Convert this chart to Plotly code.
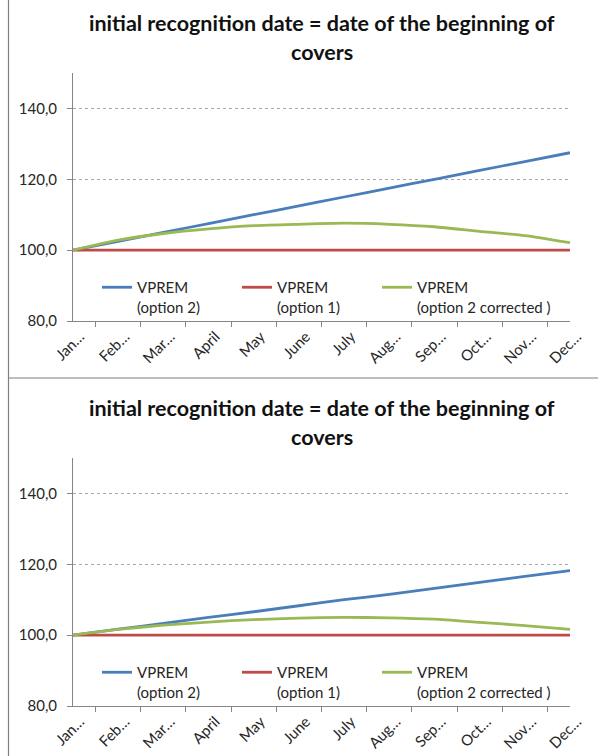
import plotly.graph_objects as go

# Month categories (truncated the way the axis shows them)
months = ["Jan…", "Feb…", "Mar…", "April", "May", "June",
          "July", "Aug…", "Sep…", "Oct…", "Nov…", "Dec…"]

# Upper chart series
top_opt2 = [100.0, 102.5, 105.0, 107.5, 110.0, 112.5, 115.0, 117.5, 120.0, 122.5, 125.0, 127.5]
top_opt1 = [100.0] * 12
top_opt2_corr = [100.0, 102.8, 104.7, 106.0, 106.9, 107.3, 107.6, 107.3, 106.6, 105.3, 104.1, 102.1]

# Lower chart series
bot_opt2 = [100.0, 101.7, 103.3, 105.0, 106.6, 108.3, 110.0, 111.5, 113.2, 114.9, 116.6, 118.2]
bot_opt1 = [100.0] * 12
bot_opt2_corr = [100.0, 101.6, 102.8, 103.7, 104.4, 104.8, 105.0, 104.9, 104.5, 103.6, 102.7, 101.6]

series_names = ["VPREM<br>(option 2)", "VPREM<br>(option 1)", "VPREM<br>(option 2 corrected )"]
colors = ["#4A7EBB", "#BE4B48", "#98B954"]

title_lines = ["initial recognition date = date of the beginning of", "covers"]
y_ticks = [80, 100, 120, 140]

W, H = 598, 756
FONT = "Lato"
TEXT = "#262626"


def px_x(p):
    return p / W


def px_y(p):
    return 1 - p / H


fig = go.Figure()

panels = [
    dict(data=[top_opt2, top_opt1, top_opt2_corr], xa="x", ya="y", legend="legend",
         top=73, bottom=321, off=0),
    dict(data=[bot_opt2, bot_opt1, bot_opt2_corr], xa="x2", ya="y2", legend="legend2",
         top=458, bottom=706, off=385),
]

layout_extra = {}
annotations = []
for i, p in enumerate(panels):
    for k, (vals, name, col) in enumerate(zip(p["data"], series_names, colors)):
        fig.add_trace(go.Scatter(
            x=months, y=vals, name=name, mode="lines",
            line=dict(color=col, width=2.8, shape="spline", smoothing=0.6),
            xaxis=p["xa"], yaxis=p["ya"], legend=p["legend"],
            legendwidth=150 if k == 2 else None,
            hoverinfo="skip",
        ))
    suffix = "" if i == 0 else "2"
    layout_extra["xaxis" + suffix] = dict(
        domain=[px_x(73), px_x(570)],
        anchor="y" + suffix,
        type="category",
        tickson="boundaries",
        ticks="outside", ticklen=5, tickcolor="#868686",
        showline=True, linecolor="#868686", linewidth=1,
        showgrid=False, zeroline=False,
        tickangle=-45,
        ticklabelshift=7,
        tickfont=dict(family=FONT, size=15, color=TEXT),
        automargin=False,
        fixedrange=True,
    )
    layout_extra["yaxis" + suffix] = dict(
        domain=[px_y(p["bottom"]), px_y(p["top"])],
        anchor="x" + suffix,
        range=[80, 150],
        tickvals=y_ticks,
        tickformat=".1f",
        ticks="outside", ticklen=5, tickcolor="#868686",
        ticklabelstandoff=7,
        showline=True, linecolor="#868686", linewidth=1,
        showgrid=True, gridcolor="#A6A6A6", griddash="3px,3px", gridwidth=1,
        zeroline=False,
        tickfont=dict(family=FONT, size=15, color=TEXT),
        automargin=False,
        fixedrange=True,
    )
    layout_extra[p["legend"]] = dict(
        orientation="h",
        x=px_x(97), xanchor="left",
        y=px_y(271 + p["off"]), yanchor="top",
        entrywidth=95, entrywidthmode="pixels",
        valign="top",
        bgcolor="rgba(0,0,0,0)",
        font=dict(family=FONT, size=15, color=TEXT),
        itemclick=False, itemdoubleclick=False,
    )
    for line, yc in zip(title_lines, (23, 52)):
        annotations.append(dict(
            text="<b>" + line + "</b>", x=px_x(322), y=px_y(yc + p["off"]),
            xref="paper", yref="paper", xanchor="center", yanchor="middle",
            showarrow=False, font=dict(family=FONT, size=21.5, color="#111111"),
        ))

# Frame lines around the two chart panels
shapes = [
    dict(type="line", xref="paper", yref="paper",
         x0=px_x(8.5), x1=px_x(8.5), y0=0, y1=1,
         line=dict(color="#7F7F7F", width=1.2)),
    dict(type="line", xref="paper", yref="paper",
         x0=px_x(8.5), x1=1, y0=px_y(378), y1=px_y(378),
         line=dict(color="#7F7F7F", width=1.2)),
]

fig.update_layout(
    width=W, height=H,
    margin=dict(l=0, r=0, t=0, b=0, autoexpand=False),
    paper_bgcolor="white", plot_bgcolor="white",
    separators=",.",
    showlegend=True,
    annotations=annotations,
    shapes=shapes,
    **layout_extra,
)

fig.write_html("out.html", config={"displayModeBar": False})
